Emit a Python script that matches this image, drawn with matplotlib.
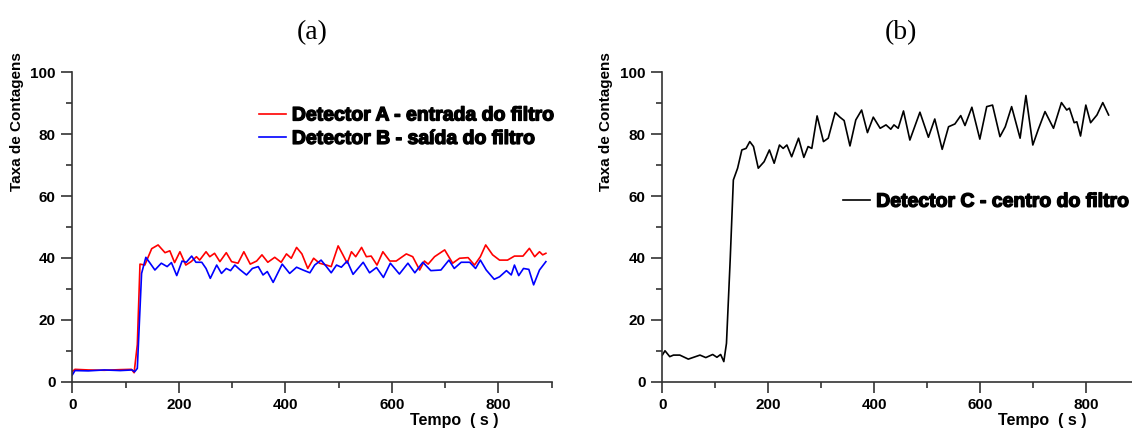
import matplotlib.pyplot as plt
import matplotlib.patheffects as pe
from matplotlib.ticker import MultipleLocator

# Detector A (entrada) - red
tA = [0, 5, 30, 60, 90, 111, 116, 122, 127, 136, 149, 161, 174, 183, 192, 202, 213, 223, 233, 239,
      251, 258, 267, 277, 289, 299, 311, 322, 334, 346, 356, 367, 380, 392, 402, 411, 421, 431,
      442, 453, 464, 477, 486, 499, 508, 516, 524, 532, 543, 552, 561, 572, 583, 596, 608, 627,
      639, 652, 661, 668, 680, 699, 714, 727, 743, 755, 766, 776, 789, 802, 817, 830, 846, 858,
      868, 877, 883, 889]
yA = [3.3, 4.0, 3.8, 3.7, 3.9, 4.0, 2.9, 12, 38, 37.7, 43, 44.2, 41.7, 42.3, 38.5, 42, 37.7, 38.8,
      40.4, 39.3, 42, 40.4, 41.5, 38.8, 41.7, 38.8, 38.3, 42, 38, 39, 41, 38.6, 40.2, 38.6, 41.3,
      39.9, 43.4, 41.3, 36.6, 39.9, 38.3, 37.7, 37.2, 43.9, 41, 38.3, 42, 40.4, 43.4, 40.4, 40.6,
      37.7, 42, 39, 39, 41.3, 40.4, 36.1, 39, 38, 40.4, 42.6, 38.3, 39.9, 40.1, 37.7, 40.4, 44.2,
      41, 39.3, 39.3, 40.6, 40.6, 43.1, 40.4, 42, 41, 41.5]

# Detector B (saida) - blue
tB = [0, 5, 30, 60, 90, 112, 117, 122, 130, 138, 146, 155, 167, 178, 186, 196, 206, 214, 224, 232,
      243, 251, 259, 271, 280, 289, 297, 305, 314, 327, 338, 349, 358, 366, 377, 394, 408, 421,
      433, 446, 455, 467, 477, 486, 496, 505, 516, 527, 546, 558, 571, 584, 597, 614, 630, 643,
      658, 673, 692, 707, 717, 730, 746, 757, 766, 777, 792, 802, 815, 824, 830, 838, 847, 857,
      866, 877, 889]
yB = [2.2, 3.6, 3.5, 3.8, 3.6, 3.8, 3.2, 4.3, 35, 40.2, 38.3, 36.1, 38.3, 37.2, 38.5, 34.3, 39,
      38.6, 40.6, 38.6, 38.6, 36.6, 33.4, 37.7, 35, 36.6, 35.9, 37.7, 36.3, 34.5, 36.6, 37.2,
      34.5, 35.6, 32.1, 38, 35, 37, 36.1, 35.2, 37.7, 39.3, 37.2, 35.2, 37.7, 37, 39, 34.7, 38.6,
      35.2, 36.9, 33.7, 38.3, 34.8, 38.3, 35.2, 38.6, 35.9, 36.1, 39.3, 36.6, 38.6, 38.6, 36.6,
      39.3, 36.1, 33.1, 33.9, 35.9, 34.5, 37.7, 34.3, 36.6, 36.3, 31.3, 36.1, 38.8]

# Detector C (centro) - black
tC = [0, 5, 14, 21, 33, 49, 71, 82, 95, 103, 110, 116, 121, 128, 134, 142, 150, 158, 165, 172,
      181, 192, 202, 211, 221, 228, 235, 244, 257, 267, 275, 282, 292, 304, 313, 326, 335, 343,
      354, 365, 376, 387, 398, 411, 422, 431, 437, 445, 455, 467, 486, 502, 514, 528, 540, 552,
      563, 571, 584, 599, 612, 623, 637, 647, 659, 675, 686, 699, 709, 722, 738, 753, 763, 768,
      777, 782, 789, 799, 808, 820, 831, 842]
yC = [8.6, 10, 8.1, 8.6, 8.6, 7.3, 8.6, 7.8, 8.8, 7.9, 8.8, 6.5, 12.4, 39.3, 65.2, 69, 74.9,
      75.4, 77.6, 76, 69, 71.1, 74.9, 70.6, 76.5, 75.4, 76.5, 72.7, 78.7, 72.5, 76, 75.4, 85.9,
      77.6, 78.7, 87, 85.5, 84.4, 76.2, 84.6, 87.8, 80.5, 85.5, 81.9, 83, 81.6, 83, 81.9, 87.5,
      78.1, 87.1, 79, 84.9, 75.1, 82.4, 83.3, 86, 82.8, 88.7, 78.4, 88.9, 89.4, 79.2, 82.4, 88.9,
      78.7, 92.5, 76.5, 81.4, 87.3, 81.9, 90.2, 87.8, 88.4, 83.7, 84, 79.4, 89.4, 83.7, 86.2,
      90.2, 86.2]

plt.rcParams['font.family'] = ['Liberation Sans', 'DejaVu Sans']

fig = plt.figure(figsize=(11.32, 4.30), dpi=100)
axA = fig.add_axes([0.0639, 0.1123, 0.4235, 0.7196])
axB = fig.add_axes([0.5851, 0.1123, 0.4214, 0.7196])

axA.plot(tA, yA, color='#ff0000', lw=1.2, label='Detector A - entrada do filtro')
axA.plot(tB, yB, color='#0000ff', lw=1.2, label='Detector B - saída do filtro')
axB.plot(tC, yC, color='black', lw=1.2, label='Detector C - centro do filtro')

heavy = [pe.withStroke(linewidth=1.0, foreground='black')]

for ax, title, lx, anchor in [(axA, '(a)', -0.100, (0.389, 0.822)),
                              (axB, '(b)', -0.103, (0.379, 0.581))]:
    ax.set_xlim(0, 900)
    ax.set_ylim(0, 100)
    ax.xaxis.set_major_locator(MultipleLocator(200))
    ax.xaxis.set_minor_locator(MultipleLocator(100))
    ax.yaxis.set_major_locator(MultipleLocator(20))
    ax.yaxis.set_minor_locator(MultipleLocator(10))
    for s in ['top', 'right']:
        ax.spines[s].set_visible(False)
    for s in ['left', 'bottom']:
        ax.spines[s].set_color('#333333')
        ax.spines[s].set_linewidth(1.2)
    ax.tick_params(which='major', direction='out', length=8, width=1.2, color='#333333',
                   labelsize=11, pad=4)
    ax.tick_params(which='minor', direction='out', length=4, width=1.2, color='#333333')
    for lab in ax.get_xticklabels() + ax.get_yticklabels():
        lab.set_fontweight('bold')
    ax.set_ylabel('Taxa de Contagens', fontsize=11, fontweight='bold')
    ax.yaxis.set_label_coords(lx, 0.84)
    ax.set_xlabel('Tempo  ( s )', fontsize=11.5, fontweight='bold')
    ax.xaxis.set_label_coords(0.797, -0.102)
    ax.set_title(title, fontsize=20, family='Liberation Serif', pad=24)
    leg = ax.legend(loc='center left', bbox_to_anchor=anchor, frameon=False,
                    borderpad=0, borderaxespad=0, handlelength=1.4, handletextpad=0.3,
                    labelspacing=0.3, prop={'size': 14, 'weight': 'bold'})
    for txt in leg.get_texts():
        txt.set_path_effects(heavy)

fig.savefig('out.png', dpi=100)
